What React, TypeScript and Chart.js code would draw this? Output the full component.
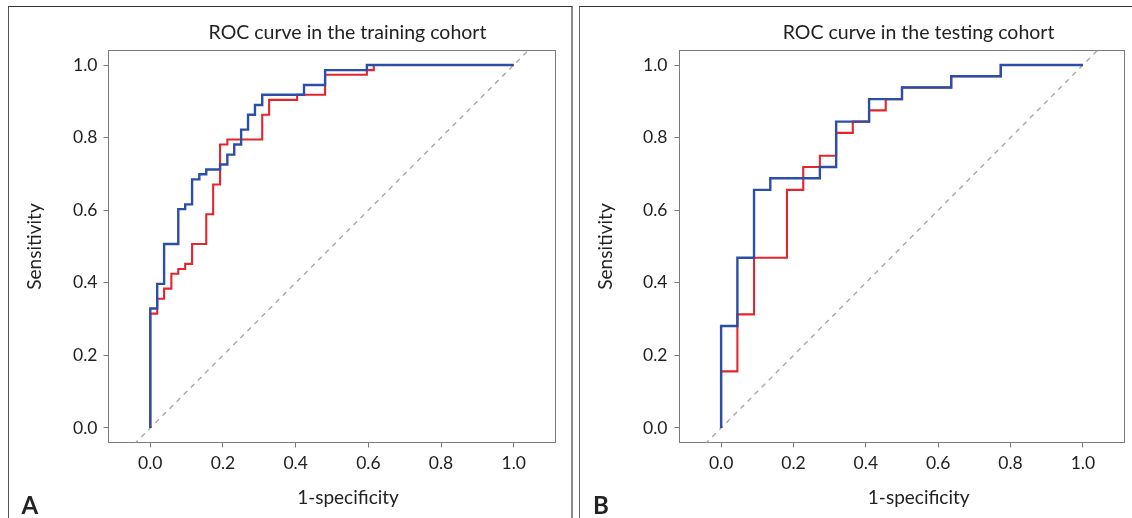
import React, { useEffect, useRef } from 'react';
import { Chart, registerables } from 'chart.js';

Chart.register(...registerables);

const FONT = 'Lato, "Open Sans", "DejaVu Sans", sans-serif';

// ---- axis ticks ----
const TICK_VALUES = [0, 0.2, 0.4, 0.6, 0.8, 1.0];
const TICK_LABELS = ['0.0', '0.2', '0.4', '0.6', '0.8', '1.0'];

// ---- texts ----
const TITLES = ['ROC curve in the training cohort', 'ROC curve in the testing cohort'];
const X_TITLE = '1-specificity';
const Y_TITLE = 'Sensitivity';
const LETTERS = ['A', 'B'];

// ---- training cohort (1-specificity, sensitivity) ----
const trainBlueFpr = [0, 0, 0.019, 0.038, 0.077, 0.096, 0.115, 0.135, 0.154, 0.192, 0.212, 0.231, 0.25, 0.269, 0.288, 0.308, 0.423, 0.481, 0.596, 1.0];
const trainBlueTpr = [0, 0.329, 0.397, 0.507, 0.603, 0.616, 0.685, 0.699, 0.712, 0.726, 0.753, 0.781, 0.822, 0.863, 0.89, 0.918, 0.945, 0.986, 1.0, 1.0];
const trainRedFpr = [0, 0, 0.019, 0.038, 0.058, 0.077, 0.096, 0.115, 0.154, 0.173, 0.192, 0.212, 0.308, 0.327, 0.404, 0.481, 0.596, 0.615, 1.0];
const trainRedTpr = [0, 0.315, 0.356, 0.384, 0.425, 0.438, 0.452, 0.507, 0.589, 0.671, 0.781, 0.795, 0.863, 0.904, 0.918, 0.973, 0.986, 1.0, 1.0];

// ---- testing cohort ----
const testBlueFpr = [0, 0, 0.045, 0.091, 0.136, 0.273, 0.318, 0.409, 0.5, 0.636, 0.773, 1.0];
const testBlueTpr = [0, 0.281, 0.469, 0.656, 0.688, 0.719, 0.844, 0.906, 0.938, 0.969, 1.0, 1.0];
const testRedFpr = [0, 0, 0.045, 0.091, 0.182, 0.227, 0.273, 0.318, 0.364, 0.409, 0.455, 0.5, 0.636, 0.773, 1.0];
const testRedTpr = [0, 0.156, 0.313, 0.469, 0.656, 0.719, 0.75, 0.813, 0.844, 0.875, 0.906, 0.938, 0.969, 1.0, 1.0];

// reference diagonal
const DIAG = [-0.2, 1.2];

const BLUE = '#2b4ea6';
const RED = '#e3262d';
const GRAY = '#a8a8a8';
const FRAME = '#7a7a7a';
const TEXT = '#222';

const toPts = (xs: number[], ys: number[]) => xs.map((x, i) => ({ x, y: ys[i] }));

type PanelCfg = {
  width: number;
  height: number;
  frame: { left: number; top: number; right: number; bottom: number };
  title: string;
  titleX: number;
  xTitleX: number;
  yTitleX: number;
  letter: string;
  letterX: number;
  tickPad: number;
  blue: { x: number; y: number }[];
  red: { x: number; y: number }[];
};

function Panel({ cfg, left }: { cfg: PanelCfg; left: number }) {
  const ref = useRef<HTMLCanvasElement | null>(null);
  useEffect(() => {
    if (!ref.current) return;
    const framePlugin = {
      id: 'frame',
      beforeDatasetsDraw(chart: any) {
        const { ctx, chartArea } = chart;
        ctx.save();
        ctx.strokeStyle = FRAME;
        ctx.lineWidth = 1;
        ctx.strokeRect(chartArea.left, chartArea.top, chartArea.right - chartArea.left, chartArea.bottom - chartArea.top);
        ctx.restore();
      },
    };
    const textPlugin = {
      id: 'panelText',
      afterDraw(chart: any) {
        const ctx = chart.ctx;
        ctx.save();
        ctx.fillStyle = TEXT;
        ctx.textAlign = 'center';
        ctx.textBaseline = 'alphabetic';
        ctx.font = `19.5px ${FONT}`;
        ctx.fillText(cfg.title, cfg.titleX, 38.5);
        ctx.font = `19px ${FONT}`;
        ctx.fillText(X_TITLE, cfg.xTitleX, 504);
        ctx.textAlign = 'left';
        ctx.font = `bold 24px ${FONT}`;
        ctx.fillText(cfg.letter, cfg.letterX, 514);
        ctx.restore();
      },
    };
    const chart = new Chart(ref.current, {
      type: 'line',
      data: {
        datasets: [
          {
            data: cfg.blue,
            borderColor: BLUE,
            borderWidth: 2.4,
            stepped: 'before',
            pointRadius: 0,
            fill: false,
            order: 1,
          },
          {
            data: cfg.red,
            borderColor: RED,
            borderWidth: 2.1,
            stepped: 'before',
            pointRadius: 0,
            fill: false,
            order: 2,
          },
          {
            data: toPts(DIAG, DIAG),
            borderColor: GRAY,
            borderWidth: 1.4,
            borderDash: [5, 5],
            pointRadius: 0,
            fill: false,
            order: 3,
          },
        ],
      } as any,
      options: {
        animation: false,
        responsive: false,
        maintainAspectRatio: false,
        layout: {
          padding: { left: 0, top: cfg.frame.top, right: cfg.width - cfg.frame.right, bottom: 0 },
        },
        plugins: {
          legend: { display: false },
          tooltip: { enabled: false },
          title: { display: false },
        },
        scales: {
          x: {
            type: 'linear',
            min: -0.115,
            max: 1.115,
            afterFit: (s: any) => {
              s.height = cfg.height - cfg.frame.bottom;
            },
            afterBuildTicks: (s: any) => {
              s.ticks = TICK_VALUES.map((v) => ({ value: v }));
            },
            ticks: {
              callback: (_v: any, i: number) => TICK_LABELS[i],
              font: { family: FONT, size: 17.5 },
              color: TEXT,
              padding: 5,
              maxRotation: 0,
              autoSkip: false,
            },
            grid: { display: true, drawOnChartArea: false, drawTicks: true, tickLength: 5, color: FRAME, lineWidth: 1 },
            border: { display: false },
          },
          y: {
            type: 'linear',
            min: -0.04,
            max: 1.04,
            afterFit: (s: any) => {
              s.width = cfg.frame.left;
            },
            afterBuildTicks: (s: any) => {
              s.ticks = TICK_VALUES.map((v) => ({ value: v }));
            },
            ticks: {
              callback: (_v: any, i: number) => TICK_LABELS[i],
              font: { family: FONT, size: 17.5 },
              color: TEXT,
              padding: cfg.tickPad,
              autoSkip: false,
            },
            grid: { display: true, drawOnChartArea: false, drawTicks: true, tickLength: 5, color: FRAME, lineWidth: 1 },
            border: { display: false },
            title: {
              display: true,
              text: Y_TITLE,
              font: { family: FONT, size: 19 },
              color: TEXT,
              padding: { top: cfg.yTitleX - 11.4, bottom: 0 },
            },
          },
        },
      } as any,
      plugins: [framePlugin, textPlugin],
    });
    return () => chart.destroy();
  }, [cfg]);
  return (
    <canvas
      ref={ref}
      width={cfg.width}
      height={cfg.height}
      style={{ position: 'absolute', left, top: 0, width: cfg.width, height: cfg.height }}
    />
  );
}

const panelA: PanelCfg = {
  width: 575,
  height: 518,
  frame: { left: 108.5, top: 50.5, right: 555.5, bottom: 442.5 },
  title: TITLES[0],
  titleX: 347.5,
  xTitleX: 348,
  yTitleX: 35,
  letter: LETTERS[0],
  letterX: 21.5,
  tickPad: 6,
  blue: toPts(trainBlueFpr, trainBlueTpr),
  red: toPts(trainRedFpr, trainRedTpr),
};

const panelB: PanelCfg = {
  width: 557,
  height: 518,
  frame: { left: 104.5, top: 50.5, right: 549.5, bottom: 442.5 },
  title: TITLES[1],
  titleX: 343.6,
  xTitleX: 343.7,
  yTitleX: 31,
  letter: LETTERS[1],
  letterX: 18,
  tickPad: 7,
  blue: toPts(testBlueFpr, testBlueTpr),
  red: toPts(testRedFpr, testRedTpr),
};

export default function App() {
  return (
    <div style={{ position: 'fixed', left: 0, top: 0, width: 1132, height: 518, background: '#fff', overflow: 'hidden' }}>
      <div
        style={{
          position: 'absolute',
          left: 8,
          top: 6,
          width: 565,
          height: 530,
          boxSizing: 'border-box',
          borderTop: '1px solid #333',
          borderLeft: '1.5px solid #555',
          borderRight: '2px solid #8a8a8a',
        }}
      />
      <div
        style={{
          position: 'absolute',
          left: 579,
          top: 6,
          width: 570,
          height: 530,
          boxSizing: 'border-box',
          borderTop: '1px solid #333',
          borderLeft: '1.5px solid #666',
        }}
      />
      <Panel cfg={panelA} left={0} />
      <Panel cfg={panelB} left={575} />
    </div>
  );
}
